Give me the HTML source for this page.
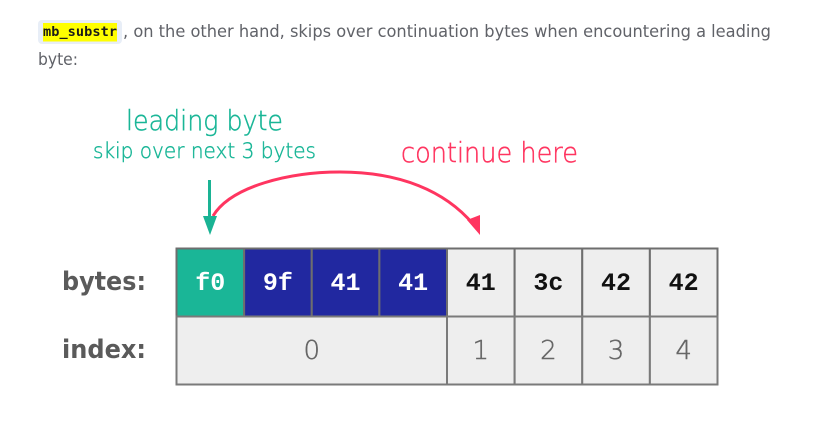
<!DOCTYPE html>
<html lang="en">
<head>
<meta charset="utf-8">
<title>mb_substr leading byte diagram</title>
<style>
html,body{margin:0;padding:0;background:#fff;width:819px;height:434px;overflow:hidden}
svg{display:block}
.sans{font-family:"DejaVu Sans","Liberation Sans",sans-serif}
.light{font-family:"DejaVu Sans ExtraLight","DejaVu Sans","Liberation Sans",sans-serif;font-weight:200;stroke-width:.45px}
.mono{font-family:"Liberation Mono",monospace;font-weight:700}
</style>
</head>
<body>
<svg id="diagram" xmlns="http://www.w3.org/2000/svg" width="819" height="434" viewBox="0 0 819 434">
  <g>
    <rect x="38" y="20" width="84" height="24" rx="4" fill="#e8eef7"/>
    <rect x="43" y="23" width="74" height="18.5" fill="#ffff00"/>
    <text x="43" y="36" font-family="'DejaVu Sans Mono',monospace" font-weight="700" font-size="13.6" fill="#1a1a1a" textLength="74">mb_substr</text>
    <text class="sans" x="123" y="37" font-size="16.5" fill="#606268" textLength="648" lengthAdjust="spacingAndGlyphs">, on the other hand, skips over continuation bytes when encountering a leading</text>
    <text class="sans" x="38" y="65" font-size="16.5" fill="#606268" textLength="40" lengthAdjust="spacingAndGlyphs">byte:</text>
  </g>

  <text class="light" x="126" y="130" font-size="28" fill="#1ab697" stroke="#1ab697" textLength="157" lengthAdjust="spacingAndGlyphs">leading byte</text>
  <text class="light" x="93" y="158" font-size="21" fill="#1ab697" stroke="#1ab697" textLength="223" lengthAdjust="spacingAndGlyphs">skip over next 3 bytes</text>
  <text class="light" x="401" y="162" font-size="28" fill="#ff3560" stroke="#ff3560" textLength="177" lengthAdjust="spacingAndGlyphs">continue here</text>

  <path d="M213 216 C231 186 290 172 340 172 C400 172 445 191 473 224" fill="none" stroke="#ff3560" stroke-width="3"/>
  <polygon points="467,220 480,215 480,235" fill="#ff3560"/>
  <line x1="209.5" y1="180" x2="209.5" y2="218" stroke="#1ab394" stroke-width="3"/>
  <polygon points="203,216 217,216 210,235" fill="#1ab394"/>

  <text class="sans" x="62" y="290" font-size="26" font-weight="700" fill="#5a5a5a" textLength="84" lengthAdjust="spacingAndGlyphs">bytes:</text>
  <text class="sans" x="62" y="358" font-size="26" font-weight="700" fill="#5a5a5a" textLength="84" lengthAdjust="spacingAndGlyphs">index:</text>

  <g id="cells"></g>
</svg>
<script>
var byteValues = ['f0', '9f', '41', '41', '41', '3c', '42', '42'];
var byteKinds = ['lead', 'cont', 'cont', 'cont', 'plain', 'plain', 'plain', 'plain'];
var indexLabels = ['0', '1', '2', '3', '4'];
var indexSpans = [4, 1, 1, 1, 1];

var NS = 'http://www.w3.org/2000/svg';
var table = document.getElementById('cells');
var left = 176.5, right = 717.5, top0 = 248.5, mid = 316.5, bottom = 384.5;
var cellW = (right - left) / byteValues.length;
var fills = { lead: '#1ab697', cont: '#2128a0', plain: '#eeeeee' };
var inks = { lead: '#ffffff', cont: '#ffffff', plain: '#111111' };

function make(tag, attrs) {
  var el = document.createElementNS(NS, tag);
  for (var k in attrs) el.setAttribute(k, attrs[k]);
  return el;
}

byteValues.forEach(function (value, i) {
  var kind = byteKinds[i];
  var rect = make('rect', { x: left + i * cellW, y: top0, width: cellW, height: mid - top0, fill: fills[kind], stroke: '#6e6e6e', 'stroke-width': 2 });
  
  
  table.appendChild(rect);
  var text = make('text', { x: left + (i + 0.5) * cellW, y: 290, 'text-anchor': 'middle', 'font-size': 25, fill: inks[kind], 'class': 'mono' });
  
  
  text.textContent = value;
  table.appendChild(text);
});

var offset = 0;
indexLabels.forEach(function (label, i) {
  var span = indexSpans[i];
  var rect = make('rect', { x: left + offset * cellW, y: mid, width: span * cellW, height: bottom - mid, fill: '#eeeeee', stroke: '#7a7a7a', 'stroke-width': 2 });
  
  
  table.appendChild(rect);
  var text = make('text', { x: left + (offset + span / 2) * cellW, y: 359, 'text-anchor': 'middle', 'font-size': 26, fill: '#666666', stroke: '#666666', 'class': 'light' });
  
  
  text.textContent = label;
  table.appendChild(text);
  offset += span;
});
</script>
</body>
</html>
